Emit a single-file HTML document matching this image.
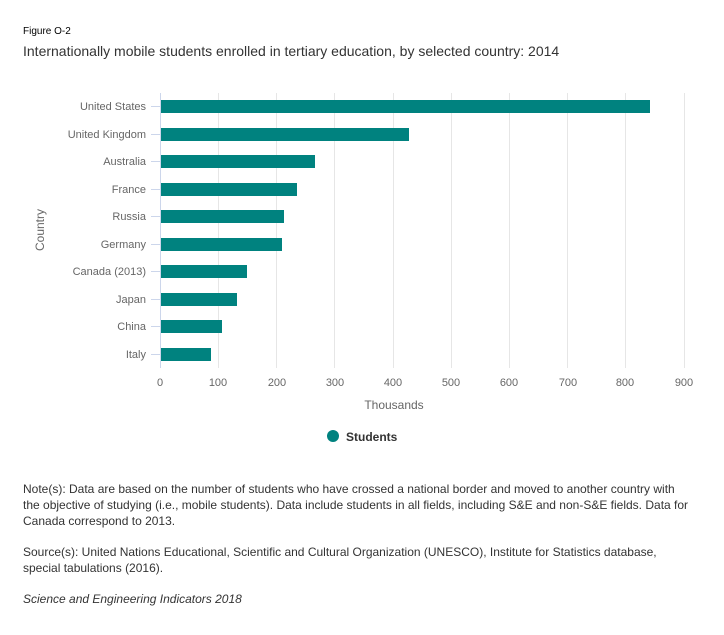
<!DOCTYPE html>
<html><head><style>
body{margin:0;background:#fff;font-family:"Liberation Sans",sans-serif;}
</style></head><body>
<svg width="724" height="630" xmlns="http://www.w3.org/2000/svg" font-family="Liberation Sans, sans-serif">
<rect width="724" height="630" fill="#fff"/>
<text x="23" y="34" font-size="10" fill="#000">Figure O-2</text>
<text x="23" y="56" font-size="14" fill="#333">Internationally mobile students enrolled in tertiary education, by selected country: 2014</text>
<g stroke="#e6e6e6" stroke-width="1">
<line x1="218.5" y1="93" x2="218.5" y2="368"/><line x1="276.5" y1="93" x2="276.5" y2="368"/>
<line x1="334.5" y1="93" x2="334.5" y2="368"/><line x1="393.5" y1="93" x2="393.5" y2="368"/>
<line x1="451.5" y1="93" x2="451.5" y2="368"/><line x1="509.5" y1="93" x2="509.5" y2="368"/>
<line x1="567.5" y1="93" x2="567.5" y2="368"/><line x1="625.5" y1="93" x2="625.5" y2="368"/>
<line x1="684.5" y1="93" x2="684.5" y2="368"/>
</g>
<line x1="160.5" y1="93" x2="160.5" y2="368" stroke="#ccd6eb"/>
<g stroke="#ccd6eb">
<line x1="151" y1="106.5" x2="160" y2="106.5"/><line x1="151" y1="134.5" x2="160" y2="134.5"/>
<line x1="151" y1="161.5" x2="160" y2="161.5"/><line x1="151" y1="189.5" x2="160" y2="189.5"/>
<line x1="151" y1="216.5" x2="160" y2="216.5"/><line x1="151" y1="244.5" x2="160" y2="244.5"/>
<line x1="151" y1="271.5" x2="160" y2="271.5"/><line x1="151" y1="299.5" x2="160" y2="299.5"/>
<line x1="151" y1="326.5" x2="160" y2="326.5"/><line x1="151" y1="354.5" x2="160" y2="354.5"/>
</g>
<g fill="#00827f">
<rect x="161" y="100" width="489" height="13"/>
<rect x="161" y="128" width="248" height="13"/>
<rect x="161" y="155" width="154" height="13"/>
<rect x="161" y="183" width="136" height="13"/>
<rect x="161" y="210" width="123" height="13"/>
<rect x="161" y="238" width="121" height="13"/>
<rect x="161" y="265" width="86" height="13"/>
<rect x="161" y="293" width="76" height="13"/>
<rect x="161" y="320" width="61" height="13"/>
<rect x="161" y="348" width="50" height="13"/>
</g>
<g font-size="11" fill="#666" text-anchor="end">
<text x="146" y="110">United States</text><text x="146" y="138">United Kingdom</text>
<text x="146" y="165">Australia</text><text x="146" y="193">France</text>
<text x="146" y="220">Russia</text><text x="146" y="248">Germany</text>
<text x="146" y="275">Canada (2013)</text><text x="146" y="303">Japan</text>
<text x="146" y="330">China</text><text x="146" y="358">Italy</text>
</g>
<g font-size="11" fill="#666" text-anchor="middle">
<text x="160" y="386">0</text><text x="218" y="386">100</text><text x="277" y="386">200</text>
<text x="335" y="386">300</text><text x="393" y="386">400</text><text x="451" y="386">500</text>
<text x="509" y="386">600</text><text x="568" y="386">700</text><text x="625" y="386">800</text>
<text x="684" y="386">900</text>
</g>
<text x="394" y="409" font-size="12" fill="#666" text-anchor="middle">Thousands</text>
<text transform="translate(44,230) rotate(-90)" font-size="12" fill="#666" text-anchor="middle">Country</text>
<circle cx="333" cy="436" r="6" fill="#00827f"/>
<text x="346" y="441" font-size="12" font-weight="bold" fill="#333">Students</text>
<g font-size="12" fill="#333">
<text x="23" y="493">Note(s): Data are based on the number of students who have crossed a national border and moved to another country with</text>
<text x="23" y="509">the objective of studying (i.e., mobile students). Data include students in all fields, including S&amp;E and non-S&amp;E fields. Data for</text>
<text x="23" y="525">Canada correspond to 2013.</text>
<text x="23" y="556">Source(s): United Nations Educational, Scientific and Cultural Organization (UNESCO), Institute for Statistics database,</text>
<text x="23" y="572">special tabulations (2016).</text>
<text x="23" y="603" font-style="italic">Science and Engineering Indicators 2018</text>
</g>
</svg>
</body></html>
